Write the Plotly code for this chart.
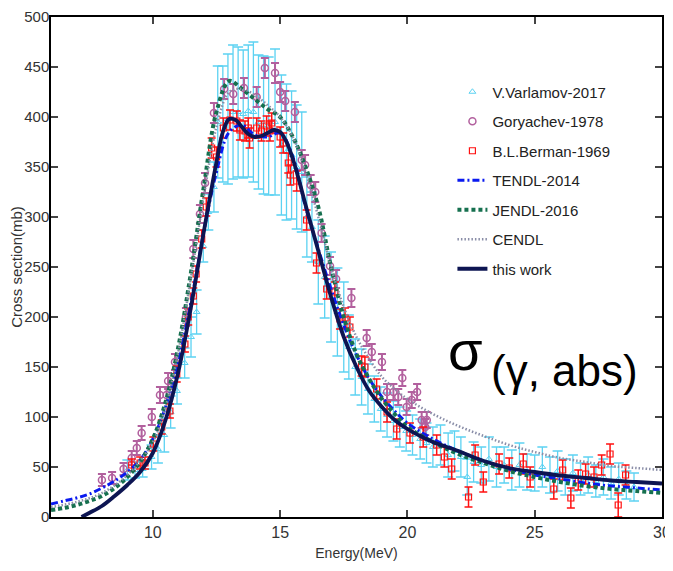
import plotly.graph_objects as go

# ---------------- data ----------------
var_E = [9.0, 9.3, 9.6, 9.95, 10.2, 10.45, 10.7, 10.95, 11.25, 11.5, 11.72, 11.98, 12.18, 12.4,
         12.55, 12.75, 12.95, 13.15, 13.35, 13.55, 13.75, 13.95, 14.15, 14.35, 14.55, 14.8,
         15.05, 15.25, 15.45, 15.65, 15.85, 16.05, 16.25, 16.5, 16.75, 17.0, 17.25, 17.5,
         17.7, 17.95, 18.2, 18.45, 18.7, 18.95, 19.2, 19.45, 19.7, 19.95, 20.2, 20.5, 20.75,
         21.0, 21.3, 21.6, 21.85, 22.1, 22.35, 22.6, 22.9, 23.2, 23.5, 23.8, 24.1, 24.4, 24.7,
         25.0, 25.3, 25.6, 25.9, 26.2, 26.5, 26.8, 27.1, 27.4, 27.7, 28.0, 28.3, 28.6, 28.9]
var_S = [47, 47, 48, 60, 68, 82, 105, 126, 154, 180, 205, 271, 305, 330,
         395, 393, 398, 405, 405, 403, 406, 405, 395, 392, 391, 395,
         372, 365, 362, 350, 345, 300, 290, 255, 240, 220, 205, 190,
         170, 150, 140, 128, 118, 108, 102, 96, 90, 86, 82, 78, 74,
         70, 72, 62, 66, 60, 40, 55, 52, 58, 50, 52, 47, 52, 45,
         44, 50, 42, 46, 40, 44, 38, 42, 36, 40, 34, 38, 32, 30]
var_err = [10, 8, 8, 12, 14, 17, 16, 13, 15, 20, 22, 16, 18, 25,
           56, 58, 65, 67, 65, 64, 66, 70, 67, 69, 69, 73,
           70, 68, 64, 62, 60, 40, 35, 42, 41, 45, 44, 45,
           32, 28, 28, 25, 23, 22, 22, 20, 20, 20, 20, 20, 20,
           20, 20, 22, 20, 20, 18, 20, 18, 22, 20, 18, 20, 22, 18,
           18, 20, 18, 20, 18, 18, 16, 18, 16, 18, 16, 16, 14, 14]

gor_E = [8.0, 8.4, 8.85, 9.17, 9.37, 9.56, 9.96, 10.28, 10.54, 10.6, 10.87, 11.3, 11.59, 11.85,
         12.05, 12.4, 12.8, 13.16, 13.58, 14.08, 14.4, 14.8, 15.0, 15.2, 15.58, 15.85, 15.98,
         16.2, 16.38, 16.63, 16.96, 17.2, 17.8, 18.4, 18.6, 19.0, 19.2, 19.45, 19.64, 19.8,
         19.97, 20.17, 20.38, 20.56, 20.7, 20.76]
gor_S = [37, 39, 48, 59, 69, 84, 100, 122, 122, 136, 155, 200, 268, 303,
         334, 404, 428, 423, 429, 420, 449, 444, 425, 416, 405, 357, 352,
         332, 325, 284, 251, 238, 219, 179, 165, 155, 125, 125, 120, 139,
         110, 117, 125, 97, 90, 97]
gor_err = [6, 6, 6, 7, 7, 7, 8, 8, 8, 8, 8, 9, 9, 9,
           10, 10, 10, 10, 10, 10, 10, 10, 10, 10, 10, 10, 10,
           10, 10, 9, 9, 9, 9, 8, 8, 8, 8, 8, 8, 8,
           8, 8, 8, 8, 8, 8]

ber_E = [9.17, 9.5, 9.69, 10.02, 10.35, 10.67, 10.94, 11.26, 11.39, 11.59, 11.7, 11.92, 12.1,
         12.31, 12.5, 12.77, 13.03, 13.3, 13.42, 13.62, 13.75, 13.8, 14.08, 14.27, 14.47, 14.6,
         14.67, 15.0, 15.12, 15.32, 15.4, 15.65, 16.04, 16.43, 16.83, 17.15, 17.35, 17.55,
         17.74, 18.2, 18.33, 18.79, 19.2, 19.58, 20.1, 20.62, 21.15, 21.45, 21.74, 22.4, 22.66,
         22.98, 23.6, 24.0, 24.55, 24.82, 25.75, 26.1, 26.42, 26.71, 27.0, 27.33, 27.63, 27.96,
         28.28, 28.57]
ber_S = [52, 54, 54, 73, 90, 106, 143, 173, 200, 221, 243, 278, 310,
         369, 360, 389, 397, 396, 387, 386, 389, 379, 389, 386, 391, 386,
         394, 380, 374, 354, 342, 336, 297, 254, 228, 225, 198, 199,
         190, 151, 150, 128, 105, 88, 84, 80, 72, 60, 48, 20, 62,
         35, 53, 49, 53, 40, 28, 47, 19, 37, 43, 40, 52, 63,
         12, 42]
ber_err = [6, 6, 6, 7, 7, 7, 8, 8, 8, 8, 8, 9, 9,
           10, 10, 10, 10, 10, 10, 10, 10, 10, 10, 10, 10, 10,
           10, 10, 10, 10, 10, 10, 10, 10, 10, 10, 10, 10,
           10, 10, 10, 10, 10, 10, 10, 10, 10, 10, 10, 10, 10,
           10, 10, 10, 10, 10, 10, 10, 10, 10, 10, 10, 10, 10,
           12, 10]

tendl_E = [6, 6.5, 7, 7.5, 8, 8.5, 9, 9.5, 10, 10.5, 11, 11.5, 12, 12.5, 13, 13.5, 14, 14.5,
           15, 15.5, 16, 16.5, 17, 17.5, 18, 18.5, 19, 19.5, 20, 21, 22, 23, 24, 25, 26, 27,
           28, 29, 30]
tendl_S = [13, 16, 19, 23, 29, 36, 45, 57, 78, 110, 155, 215, 285, 345, 385, 392, 382, 380,
           384, 360, 310, 268, 228, 192, 162, 138, 120, 106, 94, 78, 66, 56, 48, 42, 38, 34,
           31, 29, 27]

jendl_E = [6, 6.5, 7, 7.5, 8, 8.5, 9, 9.5, 10, 10.5, 11, 11.5, 12, 12.5, 13, 13.5, 14, 14.5,
           15, 15.5, 16, 16.5, 17, 17.5, 18, 18.5, 19, 19.5, 20, 21, 22, 23, 24, 25, 26, 27,
           28, 29, 30]
jendl_S = [7, 9, 12, 16, 21, 29, 40, 55, 78, 115, 170, 245, 330, 405, 436, 428, 418, 408,
           400, 380, 350, 310, 250, 200, 163, 138, 118, 103, 90, 75, 63, 54, 46, 40, 35, 31,
           28, 26, 24]

cendl_E = [6, 7, 8, 9, 10, 10.5, 11, 11.5, 12, 12.5, 13, 13.5, 14, 14.5, 15, 15.5, 16, 16.5,
           17, 17.5, 18, 18.5, 19, 19.5, 20, 21, 22, 23, 24, 25, 26, 27, 28, 29, 30]
cendl_S = [10, 15, 24, 42, 75, 110, 165, 240, 320, 390, 425, 428, 422, 412, 400, 380, 345, 300,
           250, 210, 180, 158, 140, 128, 118, 103, 91, 81, 72, 65, 59, 55, 51, 49, 47]

work_E = [7.2, 7.5, 8.0, 8.5, 9.0, 9.5, 10.0, 10.5, 11.0, 11.5, 12.0, 12.5, 12.75, 13.0, 13.25,
          13.5, 13.75, 14.0, 14.25, 14.5, 14.75, 15.0, 15.25, 15.5, 15.75, 16.0, 16.5, 17.0,
          17.5, 18.0, 18.5, 19.0, 19.5, 20.0, 20.5, 21.0, 22.0, 23.0, 24.0, 25.0, 26.0, 27.0,
          28.0, 29.0, 30.0]
work_S = [0, 4, 11, 21, 32, 45, 64, 97, 145, 210, 285, 355, 385, 398, 397,
          390, 383, 380, 381, 384, 387, 385, 375, 358, 336, 312, 266, 220,
          180, 150, 126, 110, 97, 88, 81, 75, 66, 56, 49, 45, 41.5, 39,
          36.5, 35, 33.5]

x_ticks = [10, 15, 20, 25, 30]
y_ticks = [0, 50, 100, 150, 200, 250, 300, 350, 400, 450, 500]

# ---------------- figure ----------------
CYAN = "#5cd2f2"
PURP = "#b2609e"
RED = "#ff1010"

fig = go.Figure()

fig.add_trace(go.Scatter(
    x=var_E, y=var_S, mode="markers", name="V.Varlamov-2017", legendgroup="a",
    marker=dict(symbol="triangle-up-open", size=6, color=CYAN, line=dict(width=1, color=CYAN)),
    error_y=dict(type="data", array=var_err, color=CYAN, thickness=1.3, width=5)))
fig.add_trace(go.Scatter(
    x=gor_E, y=gor_S, mode="markers", name="Goryachev-1978", legendgroup="b",
    marker=dict(symbol="circle-open", size=7, color=PURP, line=dict(width=1.5, color=PURP)),
    error_y=dict(type="data", array=gor_err, color=PURP, thickness=2, width=4)))
fig.add_trace(go.Scatter(
    x=ber_E, y=ber_S, mode="markers", name="B.L.Berman-1969", legendgroup="c",
    marker=dict(symbol="square-open", size=6, color=RED, line=dict(width=1.2, color=RED)),
    error_y=dict(type="data", array=ber_err, color=RED, thickness=1.5, width=4)))
fig.add_trace(go.Scatter(
    x=tendl_E, y=tendl_S, mode="lines", name="TENDL-2014", legendgroup="d",
    line=dict(color="#0a1af0", width=3, dash="7px,3px,2px,3px", shape="spline")))
fig.add_trace(go.Scatter(
    x=jendl_E, y=jendl_S, mode="lines", name="JENDL-2016", legendgroup="e",
    line=dict(color="#16704f", width=4, dash="4px,3px", shape="spline")))
fig.add_trace(go.Scatter(
    x=cendl_E, y=cendl_S, mode="lines", name="CENDL", legendgroup="f",
    line=dict(color="#8a8ea8", width=2.5, dash="1.5px,2px", shape="spline")))
fig.add_trace(go.Scatter(
    x=work_E, y=work_S, mode="lines", name="this work", legendgroup="g",
    line=dict(color="#0d1552", width=3.8, shape="spline")))

FONT = "Liberation Sans, Arial, sans-serif"

# the page adds an 8px body margin, so the figure is sized/offset to compensate
fig.update_layout(
    width=665, height=563,
    margin=dict(l=43, r=11, t=9, b=54, autoexpand=False),
    paper_bgcolor="white", plot_bgcolor="white",
    font=dict(family=FONT, color="#333333", size=15),
    showlegend=True,
    legend=dict(x=0.657, y=0.883, xanchor="left", yanchor="top",
                bgcolor="rgba(0,0,0,0)", font=dict(size=15, color="#222222"),
                traceorder="grouped", tracegroupgap=7, itemwidth=30),
    xaxis=dict(range=[6, 30], tickvals=x_ticks, ticks="inside", ticklen=7, tickwidth=1.5,
               showline=True, linecolor="black", linewidth=1.5, mirror="ticks",
               showgrid=False, zeroline=False, tickfont=dict(size=16), automargin=False,
               title=dict(text="Energy(MeV)", font=dict(size=14), standoff=8)),
    yaxis=dict(range=[0, 500], tickvals=y_ticks, ticks="inside", ticklen=7, tickwidth=1.5,
               showline=True, linecolor="black", linewidth=1.5, mirror="ticks",
               showgrid=False, zeroline=False, tickfont=dict(size=15), automargin=False,
               ticklabelstandoff=-3,
               title=dict(text="Cross section(mb)", font=dict(size=15), standoff=0)),
    annotations=[
        dict(xref="paper", yref="paper", x=0.647, y=0.333, xanchor="left", yanchor="middle",
             text="σ", showarrow=False, font=dict(size=56, family=FONT, color="black")),
        dict(xref="paper", yref="paper", x=0.717, y=0.293, xanchor="left", yanchor="middle",
             text="(γ, abs)", showarrow=False, font=dict(size=44, family=FONT, color="black")),
    ],
)

fig.write_html("out.html")
